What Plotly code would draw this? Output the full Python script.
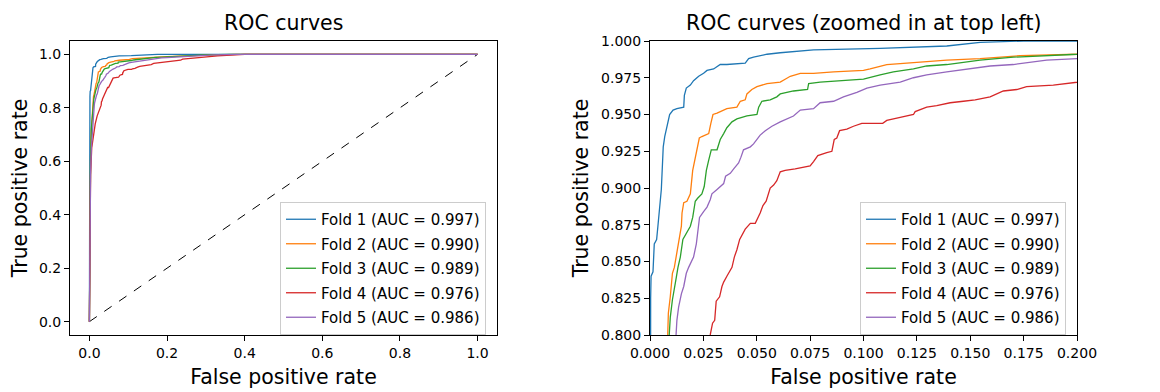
import plotly.graph_objects as go

# ---------------- data ----------------
fold_names = ["Fold 1 (AUC = 0.997)", "Fold 2 (AUC = 0.990)", "Fold 3 (AUC = 0.989)",
              "Fold 4 (AUC = 0.976)", "Fold 5 (AUC = 0.986)"]
fold_colors = ["#1f77b4", "#ff7f0e", "#2ca02c", "#d62728", "#9467bd"]

fold1_fpr = [0, 0, 0.0002, 0.0003, 0.0005, 0.0014, 0.002, 0.0031, 0.0037, 0.0044, 0.0048, 0.0053,
             0.0058, 0.0062, 0.0069, 0.0075, 0.0083, 0.0092, 0.0108, 0.0126, 0.0158, 0.0161, 0.017,
             0.0189, 0.0204, 0.0228, 0.0251, 0.0267, 0.0298, 0.0329, 0.036, 0.0446, 0.0462, 0.0485,
             0.0548, 0.061, 0.0766, 0.1078, 0.139, 0.1546, 0.1749, 1.0]
fold1_tpr = [0, 0.45, 0.70, 0.825, 0.840, 0.843, 0.862, 0.865, 0.874, 0.883, 0.892, 0.899,
             0.915, 0.928, 0.935, 0.939, 0.945, 0.950, 0.953, 0.954, 0.955, 0.963, 0.968,
             0.970, 0.973, 0.976, 0.978, 0.980, 0.981, 0.984, 0.984, 0.985, 0.988, 0.989,
             0.991, 0.992, 0.994, 0.995, 0.9966, 0.999, 1.0, 1.0]

fold2_fpr = [0, 0.001, 0.003, 0.005, 0.007, 0.0083, 0.0086, 0.0095, 0.0105, 0.0114, 0.0123, 0.0131,
             0.0139, 0.0147, 0.015, 0.0158, 0.0173, 0.0189, 0.02, 0.0207, 0.022, 0.0225, 0.0231,
             0.0243, 0.0275, 0.0285, 0.0295, 0.0314, 0.036, 0.0407, 0.0423, 0.0446, 0.0454, 0.0477,
             0.0501, 0.0548, 0.061, 0.0633, 0.0657, 0.0704, 0.0766, 0.086, 0.1, 0.1031, 0.1109,
             0.1203, 0.139, 0.1546, 0.1733, 0.2, 0.25, 0.3, 0.38, 1.0]
fold2_tpr = [0, 0.40, 0.60, 0.72, 0.78, 0.800, 0.815, 0.826, 0.842, 0.846, 0.853, 0.859,
             0.867, 0.874, 0.883, 0.890, 0.891, 0.896, 0.912, 0.917, 0.924, 0.930, 0.934,
             0.935, 0.937, 0.944, 0.950, 0.951, 0.954, 0.955, 0.959, 0.960, 0.964, 0.967,
             0.969, 0.971, 0.972, 0.974, 0.976, 0.978, 0.978, 0.979, 0.980, 0.981, 0.984,
             0.985, 0.987, 0.988, 0.990, 0.991, 0.994, 0.997, 1.0, 1.0]

fold3_fpr = [0, 0.001, 0.003, 0.005, 0.007, 0.009, 0.0095, 0.0105, 0.0114, 0.0123, 0.0131, 0.0142,
             0.0154, 0.017, 0.0189, 0.02, 0.0212, 0.0223, 0.0243, 0.0254, 0.0264, 0.0275, 0.0287,
             0.0314, 0.0329, 0.0345, 0.036, 0.0384, 0.0407, 0.0454, 0.0501, 0.0509, 0.0524, 0.0563,
             0.0594, 0.061, 0.0672, 0.0738, 0.0743, 0.0797, 0.0891, 0.1, 0.1078, 0.114, 0.1234,
             0.1296, 0.139, 0.1546, 0.1702, 0.1889, 0.2, 0.24, 0.3, 0.36, 1.0]
fold3_tpr = [0, 0.40, 0.62, 0.72, 0.77, 0.800, 0.812, 0.824, 0.833, 0.839, 0.846, 0.853,
             0.865, 0.869, 0.874, 0.880, 0.891, 0.893, 0.896, 0.901, 0.912, 0.919, 0.926,
             0.926, 0.933, 0.937, 0.941, 0.945, 0.947, 0.949, 0.950, 0.955, 0.959, 0.960,
             0.962, 0.964, 0.966, 0.967, 0.971, 0.972, 0.973, 0.974, 0.977, 0.979, 0.981,
             0.983, 0.984, 0.987, 0.989, 0.990, 0.991, 0.995, 0.998, 1.0, 1.0]

fold4_fpr = [0, 0.001, 0.003, 0.006, 0.01, 0.015, 0.02, 0.025, 0.0282, 0.0293, 0.0303, 0.031,
             0.0326, 0.0337, 0.0345, 0.036, 0.0384, 0.0395, 0.0407, 0.042, 0.0434, 0.0446, 0.047,
             0.0493, 0.0516, 0.0529, 0.0544, 0.0563, 0.0579, 0.0594, 0.061, 0.0633, 0.068, 0.075,
             0.0766, 0.0786, 0.0828, 0.0852, 0.0863, 0.0875, 0.0888, 0.0922, 0.0953, 0.0992, 0.109,
             0.1109, 0.1172, 0.1234, 0.1242, 0.1296, 0.1343, 0.1406, 0.1468, 0.1523, 0.1593,
             0.1655, 0.1718, 0.1764, 0.1889, 0.2, 0.22, 0.235, 0.24, 0.28, 0.33, 0.40, 1.0]
fold4_tpr = [0, 0.30, 0.55, 0.65, 0.70, 0.74, 0.77, 0.79, 0.800, 0.808, 0.810, 0.823,
             0.826, 0.833, 0.836, 0.840, 0.846, 0.853, 0.858, 0.865, 0.869, 0.872, 0.876,
             0.876, 0.883, 0.888, 0.891, 0.900, 0.902, 0.905, 0.911, 0.912, 0.913, 0.915,
             0.918, 0.922, 0.924, 0.925, 0.933, 0.934, 0.939, 0.940, 0.942, 0.944, 0.944,
             0.946, 0.948, 0.950, 0.952, 0.955, 0.956, 0.958, 0.959, 0.960, 0.962,
             0.966, 0.967, 0.969, 0.970, 0.972, 0.975, 0.978, 0.982, 0.988, 0.994, 1.0, 1.0]

fold5_fpr = [0, 0.001, 0.003, 0.005, 0.008, 0.01, 0.0122, 0.0126, 0.0134, 0.0147, 0.0158, 0.017,
             0.0181, 0.0204, 0.0217, 0.0228, 0.0232, 0.0251, 0.0267, 0.0282, 0.029, 0.0314, 0.0345,
             0.0354, 0.0376, 0.0392, 0.0415, 0.0426, 0.0438, 0.047, 0.0485, 0.0516, 0.054, 0.0571,
             0.061, 0.0672, 0.0704, 0.0766, 0.0797, 0.086, 0.0906, 0.0969, 0.1016, 0.1078, 0.1172,
             0.1234, 0.1296, 0.139, 0.1484, 0.1593, 0.1702, 0.1858, 0.2, 0.23, 0.27, 0.32, 0.38, 1.0]
fold5_tpr = [0, 0.30, 0.55, 0.65, 0.73, 0.77, 0.800, 0.810, 0.819, 0.828, 0.833, 0.842,
             0.846, 0.853, 0.862, 0.874, 0.880, 0.884, 0.887, 0.892, 0.896, 0.899, 0.903,
             0.908, 0.910, 0.913, 0.917, 0.921, 0.926, 0.928, 0.930, 0.936, 0.939, 0.942,
             0.945, 0.949, 0.953, 0.954, 0.958, 0.959, 0.962, 0.965, 0.968, 0.970, 0.972,
             0.975, 0.977, 0.979, 0.981, 0.983, 0.984, 0.987, 0.988, 0.991, 0.995, 0.998, 1.0, 1.0]

chance_x = [0, 1]
chance_y = [0, 1]

left_ticks = [0.0, 0.2, 0.4, 0.6, 0.8, 1.0]
left_ticktext = ["0.0", "0.2", "0.4", "0.6", "0.8", "1.0"]
zoom_x_ticks = [0.0, 0.025, 0.05, 0.075, 0.1, 0.125, 0.15, 0.175, 0.2]
zoom_x_ticktext = ["0.000", "0.025", "0.050", "0.075", "0.100", "0.125", "0.150", "0.175", "0.200"]
zoom_y_ticks = [0.8, 0.825, 0.85, 0.875, 0.9, 0.925, 0.95, 0.975, 1.0]
zoom_y_ticktext = ["0.800", "0.825", "0.850", "0.875", "0.900", "0.925", "0.950", "0.975", "1.000"]

fprs = [fold1_fpr, fold2_fpr, fold3_fpr, fold4_fpr, fold5_fpr]
tprs = [fold1_tpr, fold2_tpr, fold3_tpr, fold4_tpr, fold5_tpr]

# ---------------- figure ----------------
W, H = 1160, 392
ML, MR, MT, MB = 70, 83, 41, 57
PW = W - ML - MR
PH = H - MT - MB
FONT = "DejaVu Sans"

def dx(p):
    return (p - ML) / PW

def py(p):
    return 1 - (p - MT) / PH

fig = go.Figure()

fig.add_trace(go.Scatter(x=chance_x, y=chance_y, mode="lines", showlegend=False,
                         line=dict(color="black", width=1, dash="dash"),
                         xaxis="x", yaxis="y"))

for i, (name, col, fx, ty) in enumerate(zip(fold_names, fold_colors, fprs, tprs)):
    fig.add_trace(go.Scatter(x=fx, y=ty, mode="lines", name=name,
                             line=dict(color=col, width=1.3), legendgroup=f"a{i}",
                             xaxis="x", yaxis="y", legend="legend"))
for i, (name, col, fx, ty) in enumerate(zip(fold_names, fold_colors, fprs, tprs)):
    fig.add_trace(go.Scatter(x=fx, y=ty, mode="lines", name=name,
                             line=dict(color=col, width=1.3), legendgroup=f"b{i}",
                             xaxis="x2", yaxis="y2", legend="legend2"))

axis_common = dict(showline=True, linecolor="black", linewidth=1, mirror=True,
                   ticks="outside", ticklen=5, tickwidth=1, tickcolor="black",
                   showgrid=False, zeroline=False, automargin=False, tickmode="array",
                   tickfont=dict(family=FONT, size=14, color="black"))

title_font = dict(size=20.5, family=FONT, color="black")
legend_common = dict(xanchor="left", yanchor="top",
                     bgcolor="rgba(255,255,255,0.8)", bordercolor="#cccccc", borderwidth=1,
                     font=dict(family=FONT, size=15, color="black"), tracegroupgap=2)

fig.update_layout(
    width=W, height=H,
    margin=dict(l=ML, r=MR, t=MT, b=MB, autoexpand=False),
    paper_bgcolor="white", plot_bgcolor="white",
    font=dict(family=FONT, color="black"),
    showlegend=True,
    xaxis=dict(domain=[dx(70), dx(497)], range=[-0.05, 1.05], anchor="y",
               tickvals=left_ticks, ticktext=left_ticktext,
               title=dict(text="False positive rate", font=title_font, standoff=9),
               **axis_common),
    yaxis=dict(domain=[0, 1], range=[-0.05, 1.05], anchor="x",
               tickvals=left_ticks, ticktext=left_ticktext,
               title=dict(text="True positive rate", font=title_font, standoff=5),
               **axis_common),
    xaxis2=dict(domain=[dx(650), dx(1077)], range=[0, 0.2], anchor="y2",
                tickvals=zoom_x_ticks, ticktext=zoom_x_ticktext,
                title=dict(text="False positive rate", font=title_font, standoff=9),
                **axis_common),
    yaxis2=dict(domain=[0, 1], range=[0.8, 1.0], anchor="x2",
                tickvals=zoom_y_ticks, ticktext=zoom_y_ticktext,
                title=dict(text="True positive rate", font=title_font, standoff=6),
                **axis_common),
    legend=dict(x=dx(280), y=py(202), **legend_common),
    legend2=dict(x=dx(860), y=py(202), **legend_common),
    annotations=[
        dict(text="ROC curves", x=(dx(70) + dx(497)) / 2, y=py(23), xref="paper", yref="paper",
             xanchor="center", yanchor="middle", showarrow=False, font=title_font),
        dict(text="ROC curves (zoomed in at top left)", x=(dx(650) + dx(1077)) / 2, y=py(23),
             xref="paper", yref="paper", xanchor="center", yanchor="middle", showarrow=False,
             font=title_font),
    ],
)

fig.write_html("out.html", config={"displayModeBar": False},
               post_script="document.body.style.margin='0px';")
